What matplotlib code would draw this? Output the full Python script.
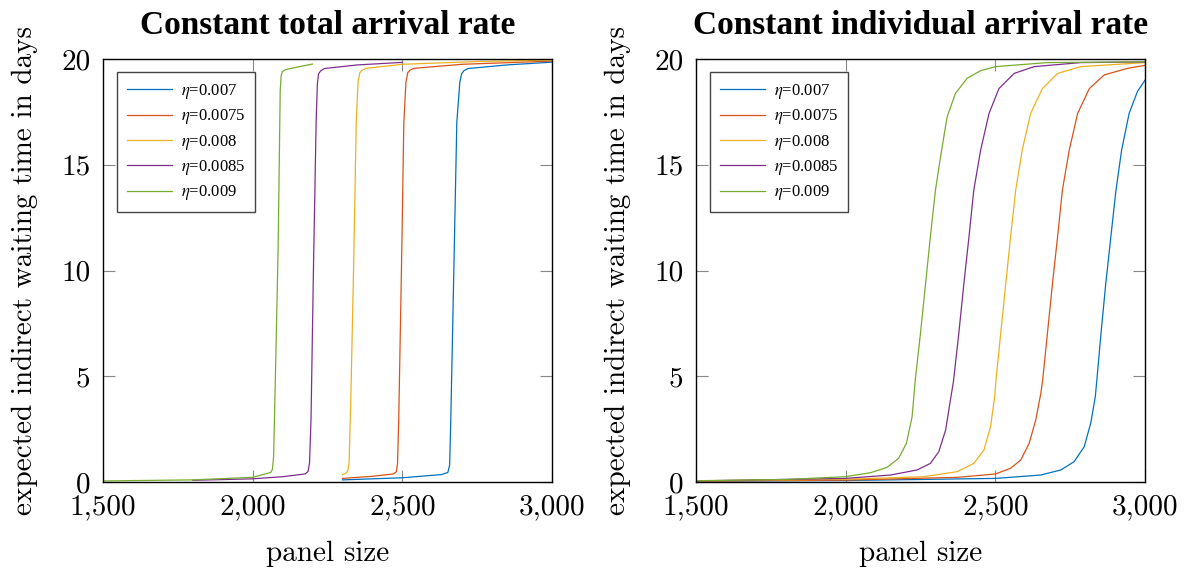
import matplotlib
matplotlib.use('Agg')
import matplotlib.pyplot as plt
from matplotlib.ticker import FuncFormatter

plt.rcParams['mathtext.fontset'] = 'stix'

ETAS = ['0.007', '0.0075', '0.008', '0.0085', '0.009']
COLORS = ['#0072BD', '#D95319', '#EDB120', '#7E2F8E', '#77AC30']

# ─── Constant total arrival rate ───
tot_x_007 = [2300, 2500, 2630, 2652, 2658, 2662, 2672, 2682, 2692, 2698, 2706, 2720, 2850, 3000]
tot_y_007 = [0.10, 0.20, 0.35, 0.45, 0.8, 3.0, 10.0, 17.0, 18.9, 19.3, 19.45, 19.55, 19.72, 19.85]
tot_x_0075 = [2300, 2400, 2470, 2480, 2484, 2488, 2497, 2505, 2512, 2518, 2526, 2540, 2700, 3000]
tot_y_0075 = [0.17, 0.27, 0.38, 0.48, 0.9, 3.0, 10.0, 17.0, 18.9, 19.35, 19.48, 19.56, 19.75, 19.9]
tot_x_008 = [2300, 2312, 2318, 2322, 2328, 2337, 2346, 2352, 2358, 2366, 2380, 2500, 2750, 3000]
tot_y_008 = [0.35, 0.42, 0.55, 0.9, 4.0, 10.0, 17.0, 18.9, 19.35, 19.48, 19.56, 19.75, 19.88, 19.95]
tot_x_0085 = [1800, 2000, 2100, 2175, 2185, 2190, 2195, 2203, 2212, 2216, 2220, 2228, 2240, 2350, 2500]
tot_y_0085 = [0.08, 0.15, 0.25, 0.38, 0.5, 0.9, 3.0, 10.0, 17.0, 18.8, 19.3, 19.45, 19.55, 19.72, 19.84]
tot_x_009 = [1500, 1800, 2000, 2060, 2066, 2070, 2076, 2085, 2092, 2095, 2099, 2110, 2150, 2200]
tot_y_009 = [0.05, 0.10, 0.22, 0.45, 0.6, 1.2, 5.0, 11.0, 18.5, 19.2, 19.4, 19.5, 19.62, 19.76]

# ─── Constant individual arrival rate ───
ind_x_007 = [1500, 1999, 2501, 2652, 2719, 2763, 2797, 2819, 2834, 2839, 2853, 2869, 2886,
             2903, 2922, 2947, 2975, 3000]
ind_y_007 = [0.04, 0.07, 0.17, 0.33, 0.57, 0.96, 1.67, 2.8, 4.04, 4.8, 7.03, 9.39, 11.6,
             13.8, 15.7, 17.43, 18.47, 19.0]
ind_x_0075 = [1500, 1999, 2373, 2501, 2551, 2585, 2613, 2635, 2652, 2658, 2674, 2691, 2708,
              2724, 2747, 2775, 2814, 2864, 2942, 3000]
ind_y_0075 = [0.04, 0.09, 0.22, 0.38, 0.65, 1.04, 1.83, 2.93, 4.19, 4.8, 7.03, 9.39, 11.6,
              13.8, 15.7, 17.43, 18.6, 19.25, 19.56, 19.7]
ind_x_008 = [1500, 1999, 2261, 2373, 2428, 2462, 2484, 2498, 2502, 2518, 2535, 2551, 2568,
             2590, 2618, 2657, 2708, 2786, 3000]
ind_y_008 = [0.05, 0.13, 0.25, 0.49, 0.88, 1.51, 2.62, 4.04, 4.8, 7.03, 9.39, 11.6, 13.8,
             15.7, 17.43, 18.6, 19.32, 19.64, 19.83]
ind_x_0085 = [1500, 1999, 2150, 2239, 2283, 2311, 2334, 2350, 2360, 2378, 2395, 2412, 2428,
              2451, 2479, 2512, 2563, 2630, 2786, 3000]
ind_y_0085 = [0.05, 0.17, 0.33, 0.57, 0.88, 1.43, 2.46, 3.88, 4.75, 7.03, 9.39, 11.6, 13.8,
              15.7, 17.43, 18.6, 19.32, 19.64, 19.83, 19.86]
ind_x_009 = [1500, 1800, 1999, 2083, 2138, 2177, 2203, 2222, 2233, 2250, 2267, 2283, 2300,
             2317, 2339, 2367, 2406, 2451, 2501, 2674, 3000]
ind_y_009 = [0.06, 0.12, 0.25, 0.44, 0.69, 1.12, 1.83, 3.09, 4.9, 7.03, 9.39, 11.6, 13.8,
             15.38, 17.27, 18.38, 19.09, 19.45, 19.64, 19.83, 19.87]

panels = [
    ('Constant total arrival rate',
     [(tot_x_007, tot_y_007), (tot_x_0075, tot_y_0075), (tot_x_008, tot_y_008),
      (tot_x_0085, tot_y_0085), (tot_x_009, tot_y_009)]),
    ('Constant individual arrival rate',
     [(ind_x_007, ind_y_007), (ind_x_0075, ind_y_0075), (ind_x_008, ind_y_008),
      (ind_x_0085, ind_y_0085), (ind_x_009, ind_y_009)]),
]

W, H = 1189, 574
fig = plt.figure(figsize=(W / 100, H / 100), dpi=100)
lefts = [103, 696]
lbl_font = dict(family='cmr10', size=21)

for (title, series), left in zip(panels, lefts):
    ax = fig.add_axes([left / W, (H - 482) / H, 449 / W, 423 / H])
    for (xs, ys), eta, c in zip(series, ETAS, COLORS):
        ax.plot(xs, ys, color=c, lw=0.9, label=rf'$\eta$=' + eta)
    ax.set_xlim(1500, 3000)
    ax.set_ylim(0, 20)
    ax.set_xticks([1500, 2000, 2500, 3000])
    ax.set_yticks([0, 5, 10, 15, 20])
    ax.xaxis.set_major_formatter(FuncFormatter(lambda v, p: f'{v:,.0f}'))
    ax.tick_params(direction='in', length=8.5, width=0.8, color='#888888',
                   top=True, right=True, pad=9)
    for lbl in ax.get_xticklabels() + ax.get_yticklabels():
        lbl.set_fontfamily('cmr10')
        lbl.set_fontsize(21)
    for s in ax.spines.values():
        s.set_linewidth(1.0)
    ax.set_title(title, fontfamily='Liberation Serif', fontweight='bold',
                 fontsize=24, pad=18)
    ax.set_xlabel('panel size', fontdict=lbl_font, labelpad=14)
    ax.set_ylabel('expected indirect waiting time in days', fontdict=lbl_font,
                  labelpad=17)
    leg = ax.legend(loc='upper left', bbox_to_anchor=(0.031, 0.969), borderaxespad=0,
                    prop=dict(family='Liberation Serif', size=12),
                    fancybox=False, framealpha=1, edgecolor='#444444',
                    handlelength=2.7, labelspacing=0.38, borderpad=0.6,
                    handletextpad=0.55)
    leg.get_frame().set_linewidth(1.0)

fig.savefig('out.png', dpi=100)
